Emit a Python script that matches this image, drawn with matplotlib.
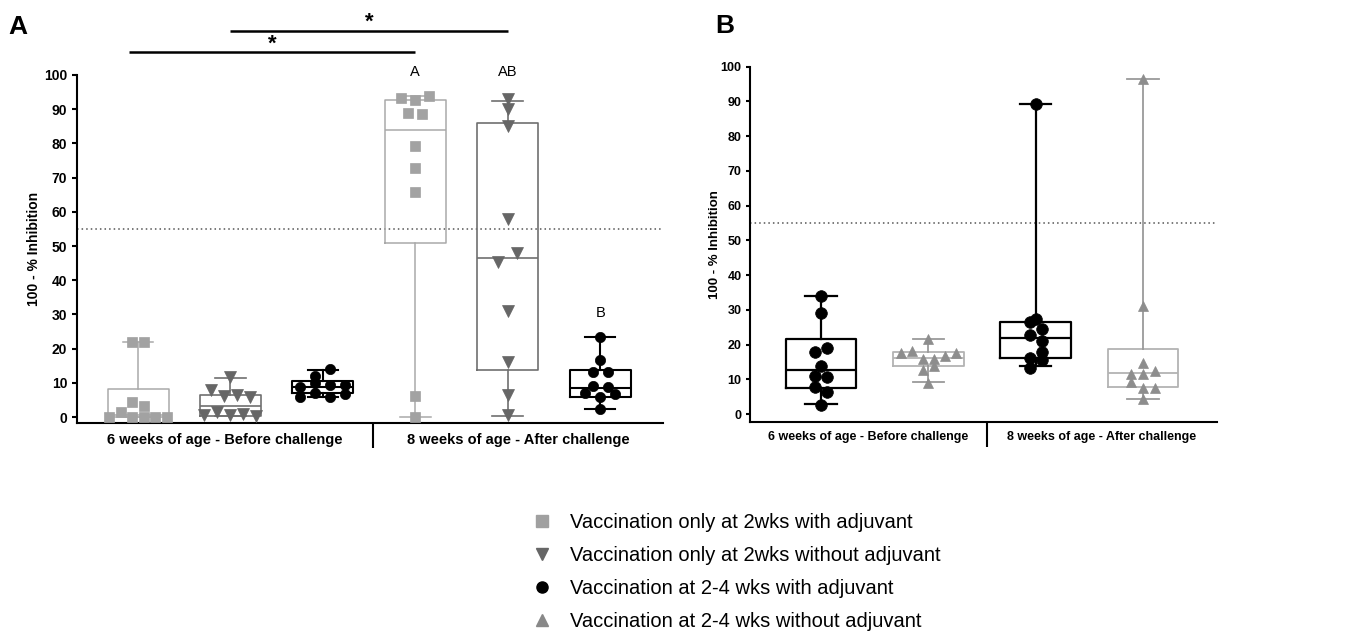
import numpy as np
import matplotlib
matplotlib.use('Agg')
import matplotlib.pyplot as plt
from matplotlib.lines import Line2D
from matplotlib.ticker import FixedLocator, FixedFormatter, NullFormatter

plt.rcParams['font.family'] = ['Liberation Sans', 'DejaVu Sans']

# ---------------- data ----------------
group_labels = ['6 weeks of age - Before challenge', '8 weeks of age - After challenge']
legend_labels = ['Vaccination only at 2wks with adjuvant',
                 'Vaccination only at 2wks without adjuvant',
                 'Vaccination at 2-4 wks with adjuvant',
                 'Vaccination at 2-4 wks without adjuvant']
y_ticks = [0, 10, 20, 30, 40, 50, 60, 70, 80, 90, 100]
threshold = 55

# Panel A raw points
a_6wk_sq = [21.8, 21.8, 4.5, 3.3, 0.0, 1.5, 0.0, 0.0, 0.0, 0.0]
a_6wk_tri = [11.7, 8.0, 6.0, 6.3, 5.9, 0.5, 1.5, 0.5, 1.0, 0.2]
a_6wk_cir = [12.1, 13.9, 8.7, 10.0, 9.4, 9.4, 5.8, 7.1, 5.9, 6.7]
a_8wk_sq = [93.4, 92.7, 94.0, 88.8, 88.5, 79.2, 72.9, 65.9, 6.1, 0.0]
a_8wk_tri = [93.0, 90.0, 85.2, 57.9, 45.4, 48.1, 31.0, 16.1, 6.5, 0.5]
a_8wk_cir = [23.5, 16.7, 13.1, 13.1, 9.2, 8.9, 7.1, 5.8, 6.7, 2.2]

# Panel A box statistics (min, Q1, median, Q3, max) in box order
a_whislo = [0.0, 0.2, 5.8, 0.0, 0.3, 2.2]
a_q1 = [0.0, 0.3, 6.9, 51.0, 13.7, 5.9]
a_med = [0.6, 3.3, 8.9, 83.9, 46.6, 8.6]
a_q3 = [8.3, 6.5, 10.6, 92.7, 85.9, 13.7]
a_whishi = [21.8, 11.3, 13.7, 94.0, 92.5, 23.5]

# Panel A letters above the after-challenge boxes
a_letters = ['A', 'AB', 'B']
a_letter_y = [100.9, 100.9, 30.4]

# Panel B raw points
b_6wk_cir = [34.0, 29.0, 17.9, 19.1, 13.8, 11.0, 10.7, 7.7, 6.4, 2.6]
b_6wk_tri = [21.5, 17.7, 18.2, 15.8, 15.8, 16.7, 17.7, 12.7, 13.8, 9.0]
b_8wk_cir = [89.4, 27.5, 26.6, 24.5, 22.9, 21.0, 16.0, 17.9, 13.4, 15.5]
b_8wk_tri = [96.4, 31.1, 14.6, 11.5, 11.5, 12.5, 9.3, 7.6, 7.6, 4.2]

b_whislo = [2.8, 9.3, 13.8, 4.2]
b_q1 = [7.6, 13.8, 16.0, 7.7]
b_med = [12.7, 16.2, 21.8, 11.7]
b_q3 = [21.5, 17.9, 26.6, 18.6]
b_whishi = [34.0, 21.5, 89.4, 96.4]

# ---------------- styles ----------------
LIGHT_BOX = '#a9a9a9'
LIGHT_PT = '#a2a2a2'
MID_BOX = '#6f6f6f'
MID_PT = '#666666'
B_TRI_BOX = '#b3b3b3'
B_TRI_WH = '#9a9a9a'
B_TRI_PT = '#8d8d8d'

# ms in points; sp = horizontal spacing of swarm columns (px); rh = row height (px)
a_styles = [
    dict(marker='s', ms=7.2, sp=11.5, rh=7.0, pc=LIGHT_PT, bc=LIGHT_BOX, wc=LIGHT_BOX, lw=1.1),
    dict(marker='v', ms=8.0, sp=13.0, rh=10.0, pc=MID_PT, bc=MID_BOX, wc=MID_BOX, lw=1.2),
    dict(marker='o', ms=7.4, sp=15.0, rh=7.0, pc='black', bc='black', wc='black', lw=1.5),
    dict(marker='s', ms=7.2, sp=14.0, rh=7.0, pc=LIGHT_PT, bc=LIGHT_BOX, wc=LIGHT_BOX, lw=1.1),
    dict(marker='v', ms=8.0, sp=19.0, rh=10.0, pc=MID_PT, bc=MID_BOX, wc=MID_BOX, lw=1.2),
    dict(marker='o', ms=7.4, sp=15.0, rh=7.0, pc='black', bc='black', wc='black', lw=1.5),
]
b_styles = [
    dict(marker='o', ms=8.4, sp=12.3, rh=8.0, pc='black', bc='black', wc='black', lw=1.6),
    dict(marker='^', ms=7.8, sp=11.0, rh=9.5, pc=B_TRI_PT, bc=B_TRI_BOX, wc=B_TRI_WH, lw=1.3),
    dict(marker='o', ms=8.4, sp=12.3, rh=8.0, pc='black', bc='black', wc='black', lw=1.6),
    dict(marker='^', ms=7.8, sp=12.0, rh=9.5, pc=B_TRI_PT, bc=B_TRI_BOX, wc=B_TRI_WH, lw=1.3),
]

DPI = 100
fig = plt.figure(figsize=(13.68, 6.36), dpi=DPI)


def swarm_x(ax, xc, vals, sp_px, rh_px):
    """Row-based scatter layout: points close in value share a row and are
    spread symmetrically around the group centre (as in GraphPad dot plots)."""
    vals = np.asarray(vals, float)
    t = ax.transData
    p0 = t.transform((0, 0))
    ppx = t.transform((1, 0))[0] - p0[0]
    ppy = t.transform((0, 1))[1] - p0[1]
    h = rh_px / ppy
    order = np.argsort(vals, kind='stable')
    rows, cur, start = [], [], None
    for i in order:
        if start is None or vals[i] - start >= h:
            if cur:
                rows.append(cur)
            cur, start = [i], vals[i]
        else:
            cur.append(i)
    if cur:
        rows.append(cur)
    xs = np.zeros(len(vals))
    for row in rows:
        row = sorted(row)
        n = len(row)
        for k, i in enumerate(row):
            xs[i] = xc + (k - (n - 1) / 2) * sp_px / ppx
    return xs


def style_axes(ax, ylim_lo, xlim, divider, tick_fs, grp_fs, spine_lw, grp_pad):
    ax.set_xlim(*xlim)
    ax.set_ylim(ylim_lo, 100)
    for s in ['top', 'right']:
        ax.spines[s].set_visible(False)
    for s in ['left', 'bottom']:
        ax.spines[s].set_linewidth(spine_lw)
    ax.set_yticks(y_ticks)
    ax.set_yticklabels([str(v) for v in y_ticks], fontweight='bold', fontsize=tick_fs)
    ax.tick_params(axis='y', length=3.6, width=spine_lw, pad=3.5)
    ax.xaxis.set_major_locator(FixedLocator([divider]))
    ax.xaxis.set_major_formatter(NullFormatter())
    ax.tick_params(axis='x', which='major', length=18, width=spine_lw)
    centers = [(xlim[0] + divider) / 2, (divider + xlim[1]) / 2]
    ax.xaxis.set_minor_locator(FixedLocator(centers))
    ax.xaxis.set_minor_formatter(FixedFormatter(group_labels))
    ax.tick_params(axis='x', which='minor', length=0, pad=grp_pad, labelsize=grp_fs)
    for lab in ax.xaxis.get_minorticklabels():
        lab.set_fontweight('bold')
    ax.axhline(threshold, color='#555555', lw=1.1, ls=(0, (1, 2)), zorder=1)


def draw_boxes(ax, positions, los, q1s, meds, q3s, his, styles, capw):
    for p, lo, q1, md, q3, hi, st in zip(positions, los, q1s, meds, q3s, his, styles):
        stats = [dict(whislo=lo, q1=q1, med=md, q3=q3, whishi=hi, fliers=[])]
        ax.bxp(stats, positions=[p], widths=0.66, capwidths=capw, showfliers=False,
               manage_ticks=False,
               boxprops=dict(color=st['bc'], lw=st['lw']),
               medianprops=dict(color=st['bc'], lw=st['lw']),
               whiskerprops=dict(color=st['wc'], lw=st['lw']),
               capprops=dict(color=st['wc'], lw=st['lw']))


def draw_points(ax, positions, series, styles):
    for p, vals, st in zip(positions, series, styles):
        xs = swarm_x(ax, p, vals, st['sp'], st['rh'])
        ax.plot(xs, vals, ls='none', marker=st['marker'], ms=st['ms'],
                mfc=st['pc'], mec=st['pc'], mew=0.5, zorder=4, clip_on=False)


# ---------------- Panel A ----------------
axA = fig.add_axes([77 / 1368, 1 - 423 / 636, 586 / 1368, 348 / 636])
pos_a = [1, 2, 3, 4, 5, 6]
style_axes(axA, -1.75, (0.34, 6.68), 3.54, 10, 10.5, 1.5, 7)
draw_boxes(axA, pos_a, a_whislo, a_q1, a_med, a_q3, a_whishi, a_styles, 0.33)
draw_points(axA, pos_a,
            [a_6wk_sq, a_6wk_tri, a_6wk_cir, a_8wk_sq, a_8wk_tri, a_8wk_cir], a_styles)
axA.set_ylabel('100 - % Inhibition', fontweight='bold', fontsize=10)
axA.yaxis.set_label_coords(-0.061, 0.5)
for p, t, y in zip(pos_a[3:], a_letters, a_letter_y):
    axA.text(p, y, t, ha='center', va='center', fontsize=10.5)

# significance bars
sig_bars = [(0.9, 4.0, 106.7), (2.0, 5.0, 112.9)]
for x0, x1, yb in sig_bars:
    axA.plot([x0, x1], [yb, yb], color='black', lw=1.8, clip_on=False,
             solid_capstyle='butt')
    axA.text((x0 + x1) / 2, yb + 0.8, '*', ha='center', va='baseline',
             fontsize=16, fontweight='bold', clip_on=False)

# ---------------- Panel B ----------------
axB = fig.add_axes([750 / 1368, 1 - 421.7 / 636, 467 / 1368, 355 / 636])
pos_b = [1, 2, 3, 4]
style_axes(axB, -2.2, (0.338, 4.69), 2.547, 9, 9, 1.5, 7)
axB.tick_params(axis='y', length=3, pad=3)
draw_boxes(axB, pos_b, b_whislo, b_q1, b_med, b_q3, b_whishi, b_styles, 0.29)
draw_points(axB, pos_b, [b_6wk_cir, b_6wk_tri, b_8wk_cir, b_8wk_tri], b_styles)
axB.set_ylabel('100 - % Inhibition', fontweight='bold', fontsize=9.5)
axB.yaxis.set_label_coords(-0.062, 0.5)

# panel letters
fig.text(8 / 1368, 1 - 34 / 636, 'A', fontsize=19, fontweight='bold', va='baseline', ha='left')
fig.text(715 / 1368, 1 - 33 / 636, 'B', fontsize=19, fontweight='bold', va='baseline', ha='left')

# legend
handles = [
    Line2D([], [], ls='none', marker='s', ms=8, mfc='#a0a0a0', mec='#a0a0a0'),
    Line2D([], [], ls='none', marker='v', ms=9, mfc='#666666', mec='#666666'),
    Line2D([], [], ls='none', marker='o', ms=8, mfc='black', mec='black'),
    Line2D([], [], ls='none', marker='^', ms=9, mfc='#888888', mec='#888888'),
]
fig.legend(handles, legend_labels, loc='upper left',
           bbox_to_anchor=(532 / 1368, 1 - 513 / 636), frameon=False,
           fontsize=14.5, handlelength=1.0, handletextpad=0.9,
           labelspacing=0.70, borderpad=0, borderaxespad=0)

fig.savefig('out.png', dpi=DPI)
